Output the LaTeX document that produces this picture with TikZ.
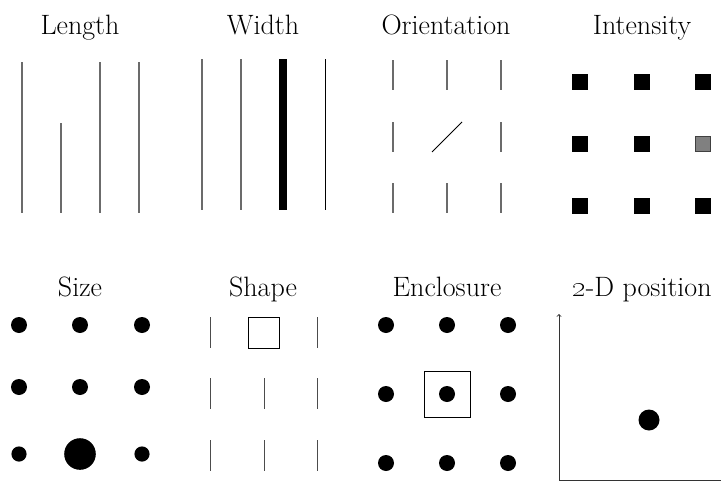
\documentclass[tikz,border=0pt]{standalone}
\begin{document}
\begin{tikzpicture}[x=1pt,y=-1pt,
  title/.style={anchor=base,inner sep=0pt,font=\fontsize{28}{32}\selectfont},
  gline/.style={draw=black!58,line width=1.1pt},
  sline/.style={draw=black!70,line width=1pt}]
\useasboundingbox (0,0) rectangle (721,482);
% titles
\node[title] (tlen) at (80,34) {Length};
\node[title] (twid) at (263,34) {Width};
\node[title] (tori) at (446,34) {Orientation};
\node[title] (tint) at (642,34) {Intensity};
\node[title] (tsiz) at (80,296) {Size};
\node[title] (tsha) at (263,296) {Shape};
\node[title] (tenc) at (447,296) {Enclosure};
\node[title] (tpos) at (642,296) {\oldstylenums{2}-D position};
% Length
\draw[gline] (22,62) -- (22,213);
\draw[gline] (61,123) -- (61,213);
\draw[gline] (100,62) -- (100,213);
\draw[gline] (139,62) -- (139,213);
% Width
\draw[gline] (202,59) -- (202,210);
\draw[gline] (241,59) -- (241,210);
\fill[black] (279.2,59) rectangle (287,210);
\draw[black,line width=0.9pt] (325,59) -- (325,210);
% Orientation
\foreach \x in {393,447,501}{
  \draw[gline] (\x,60) -- (\x,90);
  \draw[gline] (\x,183) -- (\x,213);
}
\draw[gline] (393,122) -- (393,152);
\draw[gline] (501,122) -- (501,152);
\draw[black,line width=0.8pt] (432,152) -- (462,122);
% Intensity
\foreach \x in {580,642,703}{
  \foreach \y in {82,144,206}{
    \fill[black] (\x-8,\y-8) rectangle (\x+8,\y+8);
  }
}
\fill[white] (695,136) rectangle (711,152);
\filldraw[fill=black!50,draw=black!75,line width=0.8pt] (695.5,136.5) rectangle (710.5,151.5);
% Size
\foreach \x in {19,80,142}{
  \fill (\x,325) circle (8);
  \fill (\x,387) circle (8);
}
\fill (19,454) circle (7.6);
\fill (80,454) circle (15.8);
\fill (142,454) circle (7.6);
% Shape
\foreach \x in {210,264,317}{
  \draw[sline] (\x,378) -- (\x,409);
  \draw[sline] (\x,440) -- (\x,471);
}
\draw[sline] (210,317) -- (210,348);
\draw[sline] (317,317) -- (317,348);
\draw[black,line width=0.8pt] (248,317) rectangle (279,348);
% Enclosure
\foreach \x in {386,447,508}{
  \foreach \y in {325,394,463}{
    \fill (\x,\y) circle (8);
  }
}
\draw[black,line width=0.8pt] (424,371) rectangle (470,417);
% 2-D position
\coordinate (orig) at (559,480);
\coordinate (ytop) at (559,314);
\coordinate (xend) at (725,480);
\draw[black!80,line width=0.9pt,->] (orig) -- (ytop);
\draw[black!80,line width=0.9pt,->] (orig) -- (xend);
\fill (649,420) circle (10.5);
\end{tikzpicture}
\end{document}
